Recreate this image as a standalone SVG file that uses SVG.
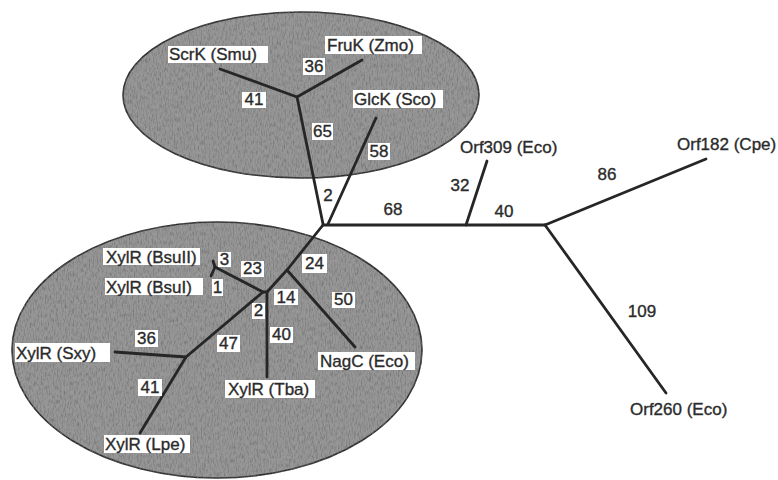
<svg xmlns="http://www.w3.org/2000/svg" width="778" height="480" viewBox="0 0 778 480">
<style>
.bg{fill:#ffffff}
.clu{fill:#979797;stroke:#2e2e2e;stroke-width:1.6;filter:url(#tex)}
.br{fill:none;stroke:#262626;stroke-width:2.8;stroke-linecap:round;stroke-linejoin:round}
.box{fill:#ffffff}
text{font-family:"Liberation Sans",Arial,Helvetica,sans-serif;font-size:17px;fill:#2b2b2b;stroke:#2b2b2b;stroke-width:0.35}
.c{text-anchor:middle}
</style>
<defs>
<filter id="tex" x="-5%" y="-5%" width="110%" height="110%">
<feTurbulence type="fractalNoise" baseFrequency="0.75 0.22" numOctaves="3" seed="4" result="n"/>
<feColorMatrix in="n" type="matrix" values="0 0 0 0 0.15  0 0 0 0 0.15  0 0 0 0 0.15  1.8 0 0 0 -0.75" result="d"/>
<feComposite in="d" in2="SourceAlpha" operator="in" result="dc"/>
<feMerge><feMergeNode in="SourceGraphic"/><feMergeNode in="dc"/></feMerge>
</filter>
</defs>
<rect class="bg" x="0" y="0" width="778" height="480"/>
<g id="clusters">
<ellipse id="cluster-top" class="clu" cx="301" cy="95" rx="178" ry="83"/>
<ellipse id="cluster-bottom" class="clu" cx="217" cy="350" rx="205" ry="128"/>
</g>
<g id="connectors">
<line class="br" x1="323" y1="224" x2="297" y2="97"/>
<line class="br" x1="297" y1="97" x2="220" y2="69"/>
<line class="br" x1="297" y1="97" x2="362" y2="60"/>
<line class="br" x1="328" y1="224" x2="376" y2="118"/>
<line class="br" x1="323" y1="225" x2="545" y2="225"/>
<line class="br" x1="466" y1="225" x2="487" y2="161"/>
<line class="br" x1="545" y1="225" x2="706" y2="159"/>
<line class="br" x1="545" y1="225" x2="666" y2="393"/>
<polyline class="br" points="323,225 287,270 267,292 263,292 186,357 140,433"/>
<line class="br" x1="287" y1="270" x2="355" y2="347"/>
<line class="br" x1="267" y1="292" x2="267" y2="377"/>
<line class="br" x1="263" y1="292" x2="215" y2="267"/>
<line class="br" x1="215" y1="267" x2="213" y2="261"/>
<line class="br" x1="215" y1="267" x2="211" y2="276"/>
<line class="br" x1="186" y1="357" x2="115" y2="352"/>
</g>
<g id="leaf-scrk"><rect class="box" x="168" y="46" width="100" height="17"/><text x="169" y="60">ScrK (Smu)</text></g>
<g id="leaf-fruk"><rect class="box" x="325" y="36" width="97" height="18"/><text x="327" y="51">FruK (Zmo)</text></g>
<g id="leaf-glck"><rect class="box" x="353" y="90" width="90" height="18"/><text x="354" y="105">GlcK (Sco)</text></g>
<g id="leaf-orf309"><text x="460" y="153">Orf309 (Eco)</text></g>
<g id="leaf-orf182"><text x="677" y="150">Orf182 (Cpe)</text></g>
<g id="leaf-orf260"><text x="630" y="415">Orf260 (Eco)</text></g>
<g id="leaf-bsuii"><rect class="box" x="103" y="248" width="97" height="17"/><text x="106" y="263">XylR (BsuII)</text></g>
<g id="leaf-bsui"><rect class="box" x="105" y="278" width="98" height="17"/><text x="106" y="293">XylR (BsuI)</text></g>
<g id="leaf-sxy"><rect class="box" x="15" y="343" width="95" height="19"/><text x="16" y="359">XylR (Sxy)</text></g>
<g id="leaf-nagc"><rect class="box" x="318" y="352" width="97" height="18"/><text x="320" y="367">NagC (Eco)</text></g>
<g id="leaf-tba"><rect class="box" x="225" y="380" width="90" height="18"/><text x="228" y="395">XylR (Tba)</text></g>
<g id="leaf-lpe"><rect class="box" x="104" y="435" width="86" height="18"/><text x="105" y="450">XylR (Lpe)</text></g>
<g id="edge-labels">
<rect class="box" x="303" y="58" width="22" height="17"/><text class="c" x="314" y="72">36</text>
<rect class="box" x="242" y="92" width="24" height="16"/><text class="c" x="254" y="105">41</text>
<rect class="box" x="312" y="123" width="21" height="17"/><text class="c" x="322.5" y="137">65</text>
<rect class="box" x="368" y="143" width="22" height="17"/><text class="c" x="379" y="157">58</text>
<text class="c" x="328" y="201">2</text>
<text class="c" x="393" y="215">68</text>
<text class="c" x="460" y="191">32</text>
<text class="c" x="504" y="217">40</text>
<text class="c" x="607" y="180">86</text>
<text class="c" x="642" y="317">109</text>
<rect class="box" x="218" y="252" width="13" height="15"/><text class="c" x="224.5" y="265">3</text>
<rect class="box" x="241" y="261" width="23" height="16"/><text class="c" x="252.5" y="274">23</text>
<rect class="box" x="302" y="254" width="25" height="19"/><text class="c" x="314.5" y="269">24</text>
<rect class="box" x="212" y="279" width="11" height="17"/><text class="c" x="217.5" y="293">1</text>
<rect class="box" x="274" y="289" width="24" height="16"/><text class="c" x="286" y="303">14</text>
<rect class="box" x="252" y="303" width="13" height="16"/><text class="c" x="258.5" y="316">2</text>
<rect class="box" x="332" y="292" width="23" height="16"/><text class="c" x="343.5" y="305">50</text>
<rect class="box" x="270" y="327" width="23" height="16"/><text class="c" x="281.5" y="340">40</text>
<rect class="box" x="135" y="330" width="23" height="17"/><text class="c" x="146.5" y="344">36</text>
<rect class="box" x="217" y="335" width="23" height="17"/><text class="c" x="228.5" y="349">47</text>
<rect class="box" x="138" y="379" width="24" height="17"/><text class="c" x="150" y="393">41</text>
</g>
</svg>
